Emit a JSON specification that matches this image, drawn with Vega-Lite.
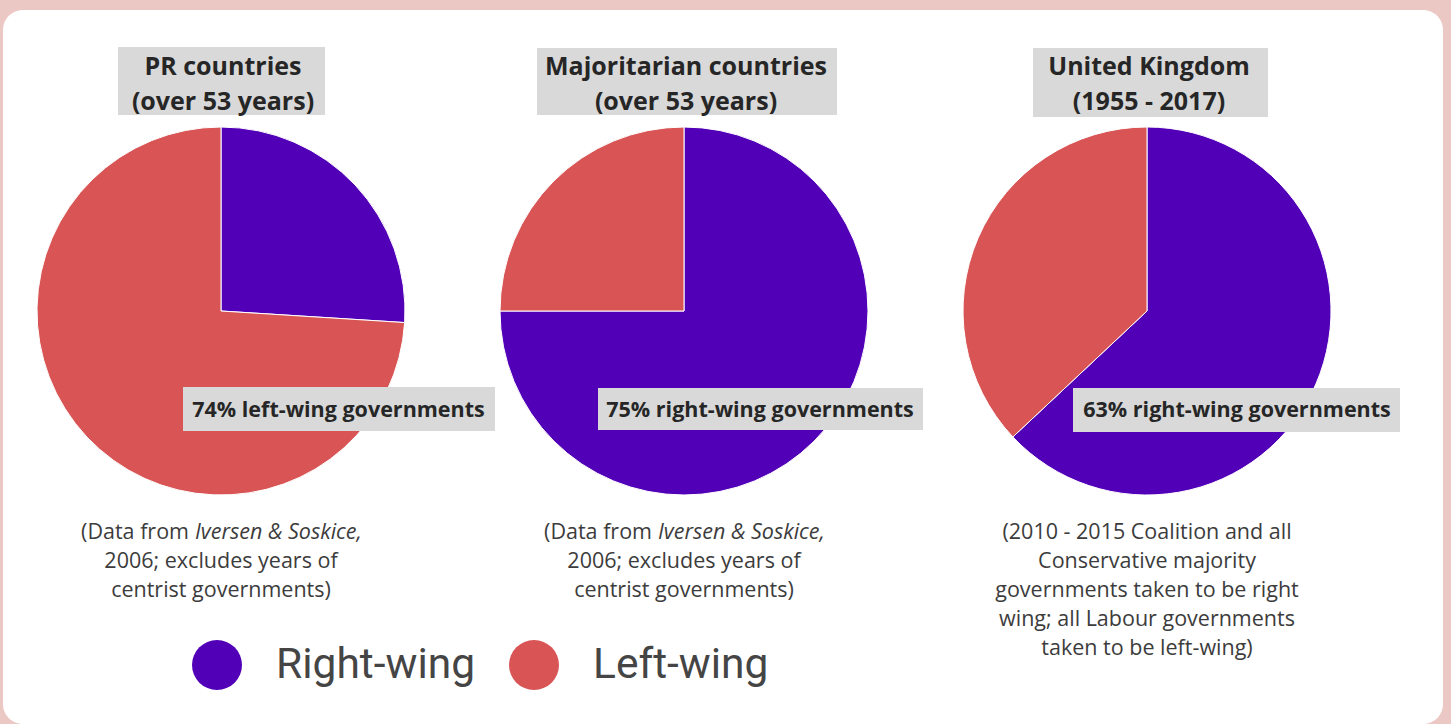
{
  "$schema": "https://vega.github.io/schema/vega-lite/v6.json",
  "width": 1451,
  "height": 724,
  "autosize": {"type": "fit", "contains": "padding"},
  "padding": {"left": 3, "top": 10, "right": 8, "bottom": 0},
  "background": "#ecc8c5",
  "config": {"view": {"fill": "white", "stroke": null, "cornerRadius": 20}},
  "datasets": {
    "shares": [
      {"chart": "PR", "side": "Right-wing", "pct": 26},
      {"chart": "PR", "side": "Left-wing", "pct": 74},
      {"chart": "Majoritarian", "side": "Right-wing", "pct": 75},
      {"chart": "Majoritarian", "side": "Left-wing", "pct": 25},
      {"chart": "UK", "side": "Right-wing", "pct": 63},
      {"chart": "UK", "side": "Left-wing", "pct": 37}
    ],
    "titles": [
      {"chart": "PR", "text": "PR countries\n(over 53 years)"},
      {"chart": "Majoritarian", "text": "Majoritarian countries\n(over 53 years)"},
      {"chart": "UK", "text": "United Kingdom\n(1955 - 2017)"}
    ],
    "labels": [
      {"chart": "PR", "text": "74% left-wing governments"},
      {"chart": "Majoritarian", "text": "75% right-wing governments"},
      {"chart": "UK", "text": "63% right-wing governments"}
    ],
    "notes": [
      {"chart": "PR", "lead": "(Data from", "cite": "Iversen & Soskice,", "rest": "2006; excludes years of\ncentrist governments)"},
      {"chart": "Majoritarian", "lead": "(Data from", "cite": "Iversen & Soskice,", "rest": "2006; excludes years of\ncentrist governments)"},
      {"chart": "UK", "lead": "", "cite": "", "rest": "(2010 - 2015 Coalition and all\nConservative majority\ngovernments taken to be right\nwing; all Labour governments\ntaken to be left-wing)"}
    ]
  },
  "encoding": {
    "x": {"field": "chart", "type": "nominal", "axis": null,
          "scale": {"type": "point", "padding": 0, "domain": ["PR", "Majoritarian", "UK"], "range": [218, 1144]}}
  },
  "layer": [
    {
      "data": {"name": "shares"},
      "transform": [{"stack": "pct", "groupby": ["chart"], "sort": [{"field": "side", "order": "descending"}], "as": ["t0", "t1"]}],
      "mark": {"type": "arc", "outerRadius": 184, "stroke": "white", "strokeWidth": 1},
      "encoding": {
        "theta": {"field": "t0", "type": "quantitative", "scale": {"domain": [0, 100]}},
        "theta2": {"field": "t1"},
        "y": {"value": 301},
        "color": {"field": "side", "type": "nominal",
          "scale": {"domain": ["Right-wing", "Left-wing"], "range": ["#5200b8", "#d95454"]},
          "legend": {"orient": "none", "legendX": 189, "legendY": 630, "direction": "horizontal", "title": null,
            "symbolType": "circle", "symbolSize": 2500, "symbolStrokeWidth": 0, "symbolOpacity": 1,
            "labelFont": "Roboto", "labelFontSize": 42.5, "labelColor": "#454545", "labelOffset": 34,
            "columnPadding": 33, "padding": 0, "labelLimit": 400}}
      }
    },
    {
      "data": {"name": "labels"},
      "transform": [{"filter": "datum.chart === 'PR'"}],
      "layer": [
        {"mark": {"type": "rect", "color": "#d9d9d9", "xOffset": -103, "x2Offset": 104},
         "encoding": {"x2": {"field": "chart"}, "y": {"value": 37}, "y2": {"value": 105}}},
        {"mark": {"type": "rect", "color": "#d9d9d9", "xOffset": -38, "x2Offset": 274},
         "encoding": {"x2": {"field": "chart"}, "y": {"value": 377}, "y2": {"value": 421}}},
        {"mark": {"type": "text", "font": "Open Sans", "fontWeight": "bold", "fontSize": 21.5, "color": "#262626", "baseline": "alphabetic", "dx": 117.5},
         "encoding": {"text": {"field": "text"}, "y": {"value": 407}}}
      ]
    },
    {
      "data": {"name": "labels"},
      "transform": [{"filter": "datum.chart === 'Majoritarian'"}],
      "layer": [
        {"mark": {"type": "rect", "color": "#d9d9d9", "xOffset": -147, "x2Offset": 153},
         "encoding": {"x2": {"field": "chart"}, "y": {"value": 38}, "y2": {"value": 105}}},
        {"mark": {"type": "rect", "color": "#d9d9d9", "xOffset": -86, "x2Offset": 239},
         "encoding": {"x2": {"field": "chart"}, "y": {"value": 378}, "y2": {"value": 420}}},
        {"mark": {"type": "text", "font": "Open Sans", "fontWeight": "bold", "fontSize": 21.5, "color": "#262626", "baseline": "alphabetic", "dx": 76},
         "encoding": {"text": {"field": "text"}, "y": {"value": 407}}}
      ]
    },
    {
      "data": {"name": "labels"},
      "transform": [{"filter": "datum.chart === 'UK'"}],
      "layer": [
        {"mark": {"type": "rect", "color": "#d9d9d9", "xOffset": -114, "x2Offset": 121},
         "encoding": {"x2": {"field": "chart"}, "y": {"value": 38}, "y2": {"value": 107}}},
        {"mark": {"type": "rect", "color": "#d9d9d9", "xOffset": -74, "x2Offset": 253},
         "encoding": {"x2": {"field": "chart"}, "y": {"value": 378}, "y2": {"value": 422}}},
        {"mark": {"type": "text", "font": "Open Sans", "fontWeight": "bold", "fontSize": 21.5, "color": "#262626", "baseline": "alphabetic", "dx": 90},
         "encoding": {"text": {"field": "text"}, "y": {"value": 407}}}
      ]
    },
    {
      "data": {"name": "titles"},
      "mark": {"type": "text", "font": "Open Sans", "fontWeight": "bold", "fontSize": 25, "color": "#262626",
               "lineBreak": "\n", "lineHeight": 35, "baseline": "alphabetic", "dx": 2},
      "encoding": {"text": {"field": "text"}, "y": {"value": 65}}
    },
    {
      "data": {"name": "notes"},
      "transform": [{"filter": "datum.chart !== 'UK'"}],
      "layer": [
        {"mark": {"type": "text", "font": "Open Sans", "fontSize": 21.5, "color": "#3c3c3c", "align": "right", "baseline": "alphabetic", "dx": -32},
         "encoding": {"text": {"field": "lead"}, "y": {"value": 529}}},
        {"mark": {"type": "text", "font": "Open Sans", "fontStyle": "italic", "fontSize": 21.5, "color": "#3c3c3c", "align": "left", "baseline": "alphabetic", "dx": -26},
         "encoding": {"text": {"field": "cite"}, "y": {"value": 529}}},
        {"mark": {"type": "text", "font": "Open Sans", "fontSize": 21.5, "color": "#3c3c3c", "align": "center", "baseline": "alphabetic", "lineBreak": "\n", "lineHeight": 29},
         "encoding": {"text": {"field": "rest"}, "y": {"value": 558}}}
      ]
    },
    {
      "data": {"name": "notes"},
      "transform": [{"filter": "datum.chart === 'UK'"}],
      "mark": {"type": "text", "font": "Open Sans", "fontSize": 21.5, "color": "#3c3c3c", "align": "center", "baseline": "alphabetic", "lineBreak": "\n", "lineHeight": 29},
      "encoding": {"text": {"field": "rest"}, "y": {"value": 529}}
    }
  ]
}
